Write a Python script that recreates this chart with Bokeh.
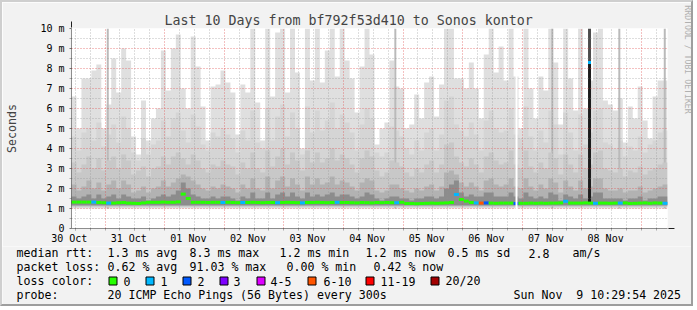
import math
from datetime import datetime, timedelta
from bokeh.plotting import figure
from bokeh.models import Range1d, FixedTicker, Arrow, NormalHead, Label
from bokeh.core.properties import value
from bokeh.embed import file_html
from bokeh.resources import INLINE

# ---------------- data ----------------
title_text = "Last 10 Days from bf792f53d410 to Sonos kontor"
axis_title = "Seconds"
watermark = "RRDTOOL / TOBI OETIKER"
end_time = datetime(2025, 11, 9, 10, 29, 54)
span_days = 10
step_hours = 2  # width of one smoke column

# smoke envelope (ms): outermost (max) band and inner, darker bands
rtt_max = [6.6, 5.0, 7.5, 7.5, 7.9, 8.2, 5.0, 6.2, 8.5, 6.8,
           9.0, 8.4, 4.6, 3.7, 6.4, 4.4, 5.5, 6.0, 8.9, 6.9,
           9.0, 9.7, 7.0, 6.0, 9.6, 8.1, 6.1, 4.4, 7.1, 7.2,
           7.9, 7.3, 6.8, 4.7, 7.2, 6.8, 10.0, 6.3, 4.4, 10.0,
           6.6, 9.8, 10.0, 6.8, 10.0, 7.8, 4.0, 10.0, 7.4, 10.0,
           7.3, 8.9, 10.0, 7.6, 10.0, 8.4, 7.5, 5.8, 8.1, 10.0,
           8.7, 4.2, 5.0, 5.3, 8.4, 7.1, 7.0, 5.0, 5.2, 6.7,
           5.5, 7.3, 7.6, 5.6, 7.2, 10.0, 10.0, 7.5, 7.5, 7.0,
           8.3, 7.0, 5.5, 8.7, 10.0, 7.8, 9.1, 7.4, 10.0, 7.6,
           5.0, 10.0, 7.0, 5.5, 7.6, 6.9, 10.0, 8.3, 5.2, 10.0,
           7.5, 5.9, 10.0, 6.0, 7.4, 9.8, 10.0, 6.4, 6.2, 5.9,
           6.5, 4.3, 6.1, 5.5, 7.1, 5.4, 4.5, 6.6, 7.4, 7.4]
rtt_band2 = [4.6, 3.9, 4.8, 5.0, 4.4, 5.3, 4.1, 4.7, 5.2, 4.3,
             5.6, 5.0, 3.8, 3.4, 4.5, 3.7, 4.2, 4.4, 5.4, 4.6,
             5.5, 5.8, 4.9, 4.3, 5.7, 5.1, 4.2, 3.9, 4.8, 4.6,
             5.0, 4.7, 4.5, 3.8, 4.9, 4.4, 5.9, 4.3, 4.0, 6.0,
             4.4, 5.6, 6.2, 4.6, 5.8, 5.0, 3.7, 6.1, 4.8, 5.9,
             4.9, 5.4, 6.3, 5.0, 5.7, 5.3, 4.8, 3.9, 5.2, 6.0,
             5.5, 3.8, 3.6, 3.8, 5.1, 4.9, 4.6, 4.0, 3.7, 4.4,
             3.9, 4.8, 5.0, 3.9, 4.7, 6.4, 6.6, 5.2, 4.9, 4.6,
             5.3, 4.7, 3.9, 5.4, 5.9, 5.0, 4.8, 4.9, 6.0, 4.7,
             4.5, 6.1, 4.6, 3.9, 4.9, 4.3, 5.9, 5.2, 3.7, 5.8,
             4.8, 3.9, 5.7, 4.2, 4.8, 5.9, 6.0, 4.3, 4.2, 4.0,
             4.4, 3.6, 4.1, 3.9, 4.6, 3.8, 4.2, 4.4, 4.8, 4.9]
rtt_band3 = [3.3, 2.8, 3.2, 3.6, 3.0, 3.5, 2.9, 3.4, 3.6, 3.0,
             3.7, 3.4, 2.7, 2.9, 3.1, 2.6, 3.0, 3.1, 3.6, 3.2,
             3.6, 3.8, 3.5, 3.2, 3.7, 3.4, 3.0, 2.8, 3.2, 3.1,
             3.4, 3.2, 3.1, 2.7, 3.3, 3.0, 3.8, 3.0, 2.8, 3.9,
             3.1, 3.6, 4.0, 3.2, 3.8, 3.4, 2.9, 3.9, 3.3, 3.8,
             3.3, 3.5, 4.0, 3.4, 3.7, 3.5, 3.2, 2.8, 3.5, 3.9,
             3.6, 2.9, 2.6, 2.8, 3.4, 3.3, 3.1, 2.8, 2.6, 3.0,
             2.8, 3.2, 3.4, 2.8, 3.2, 4.2, 4.3, 3.6, 3.3, 3.1,
             3.5, 3.2, 2.8, 3.6, 3.8, 3.4, 3.2, 3.3, 3.9, 3.2,
             3.0, 3.9, 3.1, 2.8, 3.3, 3.0, 3.8, 3.5, 2.7, 3.7,
             3.2, 2.8, 3.7, 3.0, 3.2, 3.8, 3.9, 3.0, 2.9, 2.8,
             3.0, 2.6, 2.9, 2.8, 3.1, 2.7, 2.9, 3.0, 3.2, 3.3]
rtt_band4 = [2.2, 1.9, 2.1, 2.4, 2.0, 2.3, 1.9, 2.2, 2.4, 2.0,
             2.4, 2.2, 1.8, 1.9, 2.1, 1.8, 2.0, 2.1, 2.4, 2.1,
             2.3, 2.5, 2.7, 2.6, 2.4, 2.2, 2.0, 1.9, 2.1, 2.0,
             2.2, 2.1, 2.0, 1.8, 2.2, 2.0, 2.5, 2.0, 1.9, 2.6,
             2.0, 2.4, 2.6, 2.1, 2.5, 2.2, 1.9, 2.6, 2.2, 2.5,
             2.2, 2.3, 2.6, 2.2, 2.4, 2.3, 2.1, 1.9, 2.3, 2.5,
             2.4, 1.9, 1.8, 1.9, 2.2, 2.2, 2.0, 1.9, 1.8, 2.0,
             1.9, 2.1, 2.2, 1.9, 2.1, 2.8, 2.9, 2.7, 2.3, 2.1,
             2.3, 2.1, 1.9, 2.4, 2.5, 2.2, 2.1, 2.2, 2.5, 2.1,
             2.0, 2.5, 2.1, 1.9, 2.2, 2.0, 2.5, 2.3, 1.8, 2.4,
             2.1, 1.9, 2.4, 2.0, 2.1, 2.5, 2.5, 2.0, 1.9, 1.9,
             2.0, 1.8, 1.9, 1.9, 2.1, 1.8, 1.9, 2.0, 2.1, 2.2]
rtt_band5 = [1.6, 1.5, 1.6, 1.7, 1.5, 1.7, 1.5, 1.6, 1.7, 1.5,
             1.7, 1.6, 1.5, 1.5, 1.6, 1.4, 1.5, 1.6, 1.7, 1.6,
             1.7, 1.9, 2.3, 2.0, 1.7, 1.6, 1.5, 1.5, 1.6, 1.5,
             1.6, 1.6, 1.5, 1.4, 1.6, 1.5, 1.8, 1.5, 1.5, 1.8,
             1.5, 1.7, 1.8, 1.6, 1.8, 1.6, 1.5, 1.8, 1.6, 1.7,
             1.6, 1.7, 1.8, 1.6, 1.7, 1.7, 1.6, 1.5, 1.6, 1.8,
             1.7, 1.5, 1.4, 1.5, 1.6, 1.6, 1.5, 1.5, 1.4, 1.5,
             1.5, 1.6, 1.6, 1.5, 1.6, 2.0, 2.2, 2.4, 1.8, 1.6,
             1.7, 1.6, 1.6, 1.8, 1.8, 1.6, 1.6, 1.6, 1.8, 1.6,
             1.5, 1.8, 1.6, 1.5, 1.6, 1.5, 1.8, 1.7, 1.4, 1.7,
             1.6, 1.5, 1.7, 1.5, 1.6, 1.8, 1.8, 1.5, 1.5, 1.5,
             1.5, 1.4, 1.5, 1.5, 1.6, 1.4, 1.5, 1.5, 1.6, 1.6]
smoke_floor = [1.0, 1.05, 1.09, 1.13, 1.16]

rtt_median = [1.32, 1.32, 1.32, 1.32, 1.32, 1.30, 1.29, 1.27, 1.27, 1.29,
              1.30, 1.27, 1.26, 1.25, 1.28, 1.31, 1.31, 1.31, 1.32, 1.31,
              1.31, 1.33, 1.72, 1.50, 1.31, 1.31, 1.31, 1.30, 1.31, 1.31,
              1.30, 1.31, 1.30, 1.29, 1.30, 1.30, 1.31, 1.30, 1.29, 1.30,
              1.30, 1.29, 1.30, 1.31, 1.30, 1.29, 1.28, 1.30, 1.30, 1.31,
              1.30, 1.29, 1.30, 1.31, 1.30, 1.30, 1.29, 1.28, 1.30, 1.29,
              1.28, 1.30, 1.29, 1.30, 1.29, 1.29, 1.31, 1.25, 1.25, 1.24,
              1.25, 1.26, 1.27, 1.26, 1.27, 1.28, 1.30, 1.70, 1.45, 1.37,
              1.30, 1.28, 1.27, 1.28, 1.27, 1.26, 1.27, 1.27, 1.27, 1.25,
              1.26, 1.26, 1.27, 1.26, 1.27, 1.26, 1.27, 1.27, 1.28, 1.36,
              1.27, 1.27, 1.27, 1.28, 1.27, 1.26, 1.27, 1.27, 1.26, 1.27,
              1.27, 1.28, 1.25, 1.26, 1.27, 1.28, 1.26, 1.28, 1.27, 1.26]
loss_count = [0, 0, 0, 0, 1, 0, 0, 1, 0, 0,
              0, 0, 0, 0, 0, 0, 0, 0, 0, 0,
              0, 0, 0, 0, 0, 0, 0, 0, 0, 0,
              1, 0, 0, 0, 1, 0, 0, 0, 0, 0,
              0, 1, 0, 0, 0, 0, 1, 0, 0, 0,
              0, 0, 0, 1, 0, 0, 0, 0, 0, 0,
              0, 0, 0, 0, 0, 1, 0, 0, 0, 0,
              0, 0, 0, 0, 0, 0, 0, 1, 0, 0,
              0, 1, 7, 2, 0, 0, 0, 0, 0, 2,
              0, 0, 0, 0, 0, 0, 0, 0, 0, 1,
              0, 0, 0, 0, 0, 1, 0, 0, 0, 0,
              1, 0, 0, 0, 0, 0, 0, 0, 0, 1]

# narrow full-height smoke spikes (hours since start, ms)
spike_hours = [14.6, 130.4, 193.6, 220.6, 238.9]
spike_top = [10.0, 10.0, 10.0, 10.0, 10.0]
# the single 8.3 ms median peak
peak_hours = [208.6]
peak_median = [8.3]
peak_top = [10.0]
peak_loss = [1]
# period without data
nodata_hours = [178.8]
nodata_len = [0.8]

y_ticks = [0, 1, 2, 3, 4, 5, 6, 7, 8, 9, 10]
y_tick_labels = ["0", "1 m", "2 m", "3 m", "4 m", "5 m", "6 m", "7 m", "8 m", "9 m", "10 m"]
day_labels = ["30 Oct", "31 Oct", "01 Nov", "02 Nov", "03 Nov",
              "04 Nov", "05 Nov", "06 Nov", "07 Nov", "08 Nov"]

median_stats = ["1.3 ms avg", "8.3 ms max", "1.2 ms min", "1.2 ms now", "0.5 ms sd", "2.8", "am/s"]
loss_stats = ["0.62 % avg", "91.03 % max", "0.00 % min", "0.42 % now"]
loss_bins = ["0", "1", "2", "3", "4-5", "6-10", "11-19", "20/20"]
loss_bin_upper = [0, 1, 2, 3, 5, 10, 19, 20]
probe_text = "20 ICMP Echo Pings (56 Bytes) every 300s"
stamp_text = "Sun Nov  9 10:29:54 2025"

# ---------------- style ----------------
loss_colors = ["#26ff00", "#00b8ff", "#0059ff", "#7e00ff", "#dd00ff", "#ff5500", "#ff0000", "#a10000"]
smoke_colors = ["#dfdfdf", "#d5d5d5", "#c8c8c8", "#b2b2b2", "#8c8c8c"]
BACK = "#f2f2f2"
FONT = "DejaVu Sans Mono"
MGRID = "#de4f4f"
GRID = "#8f8f8f"
ARROW = "#801f1f"
AXIS = "#1f1f1f"
SHADE_A = "2px solid #cfcfcf"
SHADE_B = "2px solid #9e9e9e"
LABEL_PAD = "\u00a0\u00a0"  # pads day labels so they sit slightly left of noon, as rrdtool draws them

start_time = end_time - timedelta(days=span_days)
total_h = span_days * 24
FL, FB, PXH, PXMS = 67.0, 228.0, 600.0 / total_h, 20.0


def tx(px):
    return (px - FL) / PXH


def ty(py):
    return (FB - py) / PXMS


def hrs(dt):
    return round((dt - start_time).total_seconds() / 3600.0, 4)


n = len(rtt_max)
col_start = [i * step_hours for i in range(n)]
step_x = col_start + [total_h]


def ext(v):
    return list(v) + [v[-1]]


def loss_color(c):
    for ub, col in zip(loss_bin_upper, loss_colors):
        if c <= ub:
            return col
    return loss_colors[-1]


first_noon = datetime(start_time.year, start_time.month, start_time.day, 12)
noons = [hrs(first_noon + timedelta(days=k)) for k in range(span_days)]
midnights = [hrs(first_noon + timedelta(hours=12 + 24 * k)) for k in range(span_days)]
midnights = [m for m in midnights if 0 < m < total_h]
sixes = [hrs(first_noon + timedelta(hours=6 * j)) for j in range(-1, 4 * span_days + 1)]
sixes = [s for s in sixes if 0 < s < total_h and s not in midnights]

# ---------------- main chart ----------------
p = figure(width=693, height=246, x_range=Range1d(0, total_h), y_range=Range1d(0, 10),
           output_backend="svg", toolbar_location=None,
           min_border_left=65, min_border_right=28, min_border_top=26, min_border_bottom=20,
           background_fill_color="white", border_fill_color=BACK, outline_line_color=None)
p.styles = {"border-top": SHADE_A, "border-left": SHADE_A, "border-right": SHADE_B}

bands = [rtt_max, rtt_band2, rtt_band3, rtt_band4, rtt_band5]
for k, band in enumerate(bands):
    p.varea_step(x=step_x, y1=[smoke_floor[k]] * (n + 1), y2=ext(band), step_mode="after",
                 fill_color=smoke_colors[k])
    if k == 1:
        p.vbar(x=spike_hours, width=0.8, bottom=smoke_floor[0], top=spike_top,
               fill_color="#bababa", line_color=None)

peak_col = [int(h // step_hours) for h in peak_hours]
p.vbar(x=peak_hours, width=1.2, bottom=[rtt_median[c] for c in peak_col], top=peak_median,
       fill_color="#1c1c1c", line_color=None)
p.vbar(x=peak_hours, width=1.2, bottom=peak_median, top=peak_top, fill_color="#4d4d4d", line_color=None)

med = p.segment(x0=col_start, x1=[c + step_hours for c in col_start], y0=rtt_median, y1=rtt_median,
                line_color=[loss_color(c) for c in loss_count], line_width=3)
med.level = "annotation"
pk = p.segment(x0=[h - 0.6 for h in peak_hours], x1=[h + 0.6 for h in peak_hours], y0=peak_median,
               y1=peak_median, line_color=[loss_color(c) for c in peak_loss], line_width=3)
pk.level = "annotation"
gap = p.vbar(x=[h + l / 2 for h, l in zip(nodata_hours, nodata_len)], width=nodata_len, bottom=0.9,
             top=10, fill_color="white", line_color=None)
gap.level = "annotation"

p.xgrid.ticker = FixedTicker(ticks=midnights, minor_ticks=sixes)
for g in (p.xgrid, p.ygrid):
    g.grid_line_color = MGRID
    g.grid_line_alpha = 0.7
    g.grid_line_dash = "1 2"
    g.minor_grid_line_color = GRID
    g.minor_grid_line_alpha = 0.6
    g.minor_grid_line_dash = "1 2"
    g.level = "guide"

p.yaxis.ticker = FixedTicker(ticks=y_ticks, minor_ticks=[t + 0.5 for t in y_ticks[:-1]])
p.yaxis.major_label_overrides = {t: lab for t, lab in zip(y_ticks, y_tick_labels)}
p.xaxis.ticker = FixedTicker(ticks=noons, minor_ticks=sixes + midnights)
p.xaxis.major_label_overrides = {t: lab + LABEL_PAD for t, lab in zip(noons, day_labels)}
for ax in (p.xaxis, p.yaxis):
    ax.axis_line_color = None
    ax.major_label_text_font = FONT
    ax.major_label_text_font_size = "10px"
    ax.major_label_text_color = "#000000"
    ax.major_tick_in = 0
    ax.major_tick_out = 2
    ax.minor_tick_in = 0
    ax.minor_tick_out = 2
    ax.major_tick_line_color = "#777777"
    ax.minor_tick_line_color = "#aaaaaa"
p.xaxis.major_tick_line_color = "#aaaaaa"
p.yaxis.major_label_standoff = 5
p.xaxis.major_label_standoff = 2
p.yaxis.axis_label = axis_title
p.yaxis.axis_label_text_font = FONT
p.yaxis.axis_label_text_font_size = "11.6px"
p.yaxis.axis_label_text_font_style = "normal"
p.yaxis.axis_label_standoff = 18

p.title.text = title_text
p.title.align = "left"
p.title.offset = 93
p.title.standoff = 2
p.title.text_font = FONT
p.title.text_font_size = "13.3px"
p.title.text_font_style = "normal"
p.add_layout(Label(x=tx(688), y=ty(59), text=watermark, angle=-math.pi / 2, text_align="center",
                   text_baseline="middle", text_font=FONT, text_font_size="8.2px",
                   text_color="#b0b0b0"), "right")

p.add_layout(Arrow(end=NormalHead(size=6, fill_color=ARROW, line_color=ARROW),
                   x_start=0, y_start=0, x_end=0, y_end=10.35, line_color=AXIS, line_width=1))
p.add_layout(Arrow(end=NormalHead(size=6, fill_color=ARROW, line_color=ARROW),
                   x_start=-1.2, y_start=0, x_end=total_h + 2.8, y_end=0, line_color=AXIS, line_width=1))

# ---------------- legend block (page pixel space) ----------------
leg = figure(width=693, height=60, x_range=Range1d(2, 695), y_range=Range1d(308, 248),
             output_backend="svg", toolbar_location=None, min_border=0,
             x_axis_type=None, y_axis_type=None,
             background_fill_color=BACK, border_fill_color=BACK, outline_line_color=None)
leg.grid.visible = False
leg.styles = {"border-left": SHADE_A, "border-right": SHADE_B, "border-bottom": SHADE_B}

rows_y = [254.5, 268.5, 282.5, 296.5]
tx_, ty_, tt_ = [], [], []


def put(px, py, s):
    tx_.append(px)
    ty_.append(py)
    tt_.append(s.replace("  ", " \u00a0"))


put(16, rows_y[0], "median rtt:")
for s, px in zip(median_stats, [107, 189, 279, 365, 447, 528, 572]):
    put(px, rows_y[0], s)
put(16, rows_y[1], "packet loss:")
for s, px in zip(loss_stats, [107, 189, 286, 373]):
    put(px, rows_y[1], s)
put(16, rows_y[2], "loss color:")
box_left = [108.5, 145.5, 182.5, 219.5, 256.5, 307.5, 365.5, 430.5]
text_left = [123, 160, 197, 233, 270, 323, 380, 445]
for s, lx in zip(loss_bins, text_left):
    put(lx, rows_y[2], s)
put(16, rows_y[3], "probe:")
put(107, rows_y[3], probe_text)
put(513, rows_y[3], stamp_text)

leg.quad(left=box_left, right=[b + 8 for b in box_left], top=[278.5] * 8, bottom=[286.5] * 8,
         fill_color=loss_colors, line_color="black", line_width=1)
leg.text(x=tx_, y=ty_, text=tt_, text_font=value(FONT), text_font_size=value("11.6px"),
         text_baseline="middle", text_align="left", text_color="black")

open("out.html", "w").write(file_html([p, leg], INLINE))
